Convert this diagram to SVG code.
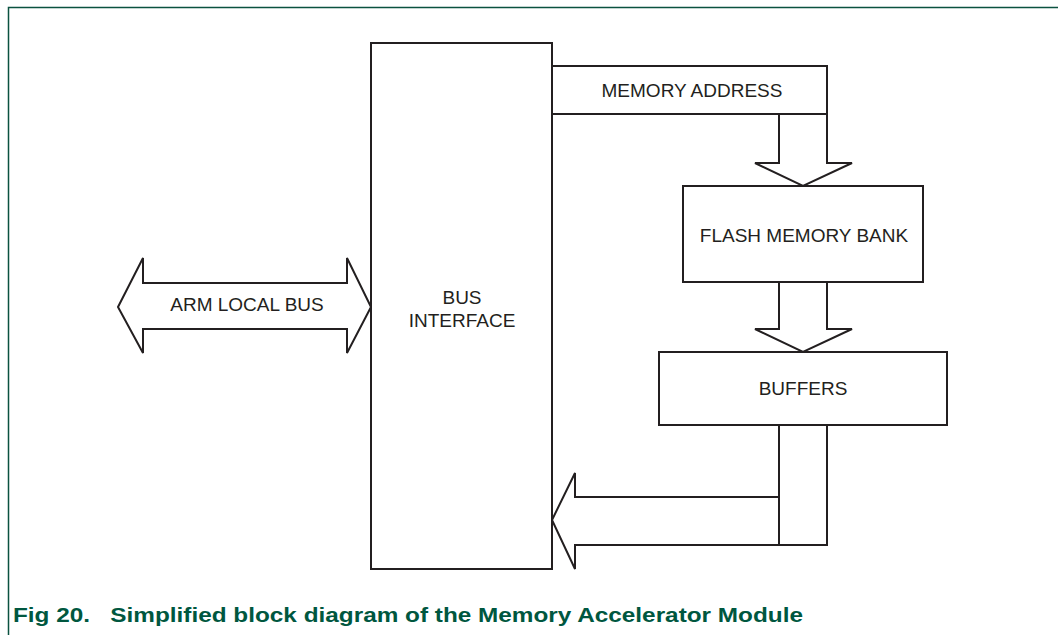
<svg xmlns="http://www.w3.org/2000/svg" width="1058" height="635" viewBox="0 0 1058 635">
<style>
.ln{fill:#fff;stroke:#231f20;stroke-width:2;stroke-linejoin:miter}
.t{font-family:"Liberation Sans",Arial,sans-serif;font-size:19px;fill:#231f20;text-anchor:middle}
.cap{font-family:"Liberation Sans",Arial,sans-serif;font-size:20.5px;font-weight:bold;fill:#00573f}
</style>
<rect width="1058" height="635" fill="#fff"/>
<path d="M1058,7.5 H8.5 V635" fill="none" stroke="#0b5240" stroke-width="1.5"/>
<g id="connectors">
<path class="ln" d="M118,307 L143,258 V283 H347 V258 L371,307 L347,353 V329 H143 V353 Z"/>
<path class="ln" d="M779,114 V163 H755 L803,186 L852,163 H827 V114"/>
<path class="ln" d="M779,282 V329 H755 L803,352 L852,329 H827 V282"/>
<path class="ln" d="M779,425 V497 H575 V473 L552,520 L575,569 V545 H827 V425"/>
<path fill="none" stroke="#231f20" stroke-width="2" d="M779,497 V545"/>
</g>
<g id="bus-interface">
<rect class="ln" x="371" y="43" width="181" height="526"/>
<text class="t" x="462" y="304">BUS</text>
<text class="t" x="462" y="327">INTERFACE</text>
</g>
<g id="memory-address">
<rect class="ln" x="552" y="66" width="275" height="48"/>
<text class="t" x="692" y="97">MEMORY ADDRESS</text>
</g>
<g id="flash-memory-bank">
<rect class="ln" x="683" y="186" width="240" height="96"/>
<text class="t" x="804" y="242">FLASH MEMORY BANK</text>
</g>
<g id="buffers">
<rect class="ln" x="659" y="352" width="288" height="73"/>
<text class="t" x="803" y="395">BUFFERS</text>
</g>
<g id="arm-local-bus">
<text class="t" x="247" y="311">ARM LOCAL BUS</text>
</g>
<text class="cap" x="13" y="622" textLength="790" lengthAdjust="spacingAndGlyphs" xml:space="preserve">Fig 20.   Simplified block diagram of the Memory Accelerator Module</text>
</svg>
